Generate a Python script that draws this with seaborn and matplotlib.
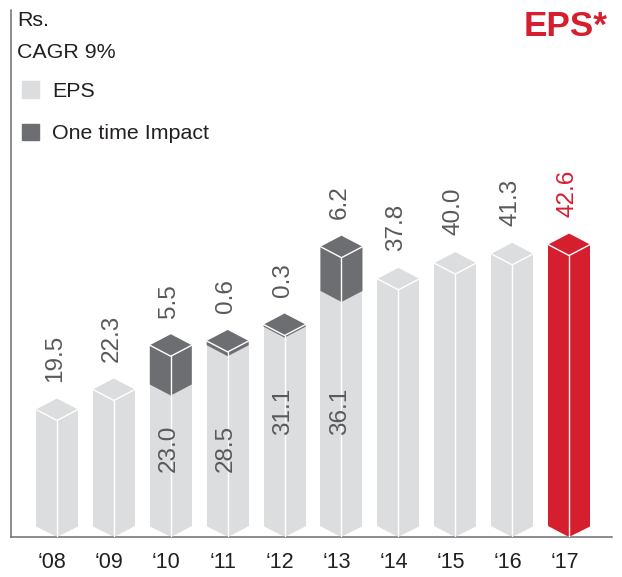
import matplotlib
matplotlib.use("Agg")
import matplotlib.pyplot as plt
from matplotlib.patches import Patch
from matplotlib.transforms import ScaledTranslation
import pandas as pd
import seaborn as sns

years = ["‘08", "‘09", "‘10", "‘11", "‘12", "‘13", "‘14", "‘15", "‘16", "‘17"]
eps = [19.5, 22.3, 23.0, 28.5, 31.1, 36.1, 37.8, 40.0, 41.3, 42.6]
one_time = [0, 0, 5.5, 0.6, 0.3, 6.2, 0, 0, 0, 0]

LIGHT = "#dcddde"
DARK = "#6d6e71"
RED = "#d51f2f"
TEXT = "#58595b"

df = pd.DataFrame({"year": years, "eps": eps, "one_time": one_time})
df["total"] = df["eps"] + df["one_time"]

sns.set_theme(style="white")
plt.rcParams["font.family"] = ["Liberation Sans", "DejaVu Sans"]

W, H = 622, 577
fig = plt.figure(figsize=(W / 100, H / 100), dpi=100)
ax = fig.add_axes([11 / W, 1 - 537 / H, 601 / W, 527 / H])

colors = [LIGHT] * 9 + [RED]
sns.barplot(data=df, x="year", y="total", hue="year", palette=colors, legend=False,
            saturation=1, width=0.738, ax=ax, linewidth=0, zorder=1)

px_per_unit = 7.14
floor = 1.64
ax.set_ylim(floor, floor + 527 / px_per_unit)
ax.set_xlim(-0.808, 9.754)
d = 11 / px_per_unit
hw = 0.738 / 2

for i, row in df.iterrows():
    top = row["total"]
    col = RED if i == 9 else LIGHT
    # one time part, V shaped lower edge
    if row["one_time"] > 0:
        col = DARK
        b = row["eps"]
        ax.fill([i - hw, i, i + hw, i + hw, i - hw], [b, b - d, b, top, top],
                color=DARK, lw=0, zorder=2)
    # top of the cube
    ax.fill([i - hw, i, i + hw, i], [top, top + d, top, top - d], color=col, lw=0, zorder=3)
    # white edges
    ax.plot([i - hw, i, i + hw], [top, top - d, top], color="white", lw=1, zorder=4,
            solid_joinstyle="miter")
    ax.plot([i, i], [floor, top - d], color="white", lw=1, zorder=4)
    # chevron cut at the foot
    ax.fill([i - hw - 0.01, i - hw - 0.01, i], [floor + d, floor, floor], color="white", lw=0, zorder=2)
    ax.fill([i + hw + 0.01, i + hw + 0.01, i], [floor + d, floor, floor], color="white", lw=0, zorder=2)

# labels over the bars
for i, row in df.iterrows():
    label = row["one_time"] if row["one_time"] > 0 else row["eps"]
    ax.annotate(f"{label:.1f}", (i, row["total"] + d), xytext=(-1.5, 12), textcoords="offset points",
                rotation=90, ha="center", va="bottom", fontsize=17.5,
                color=RED if i == 9 else TEXT, zorder=5)

# eps labels inside the split bars
for i, py in zip([2, 3, 4, 5], [448, 448, 411, 411]):
    ax.text(i - 0.03, (537 - py) / 527, f"{eps[i]:.1f}", rotation=90, ha="center", va="center",
            fontsize=17.5, color=TEXT, transform=ax.get_xaxis_transform(), zorder=5)

for side in ["top", "right"]:
    ax.spines[side].set_visible(False)
for side in ["left", "bottom"]:
    ax.spines[side].set_color(DARK)
    ax.spines[side].set_linewidth(1.1)

ax.set_xlabel("")
ax.set_ylabel("")
ax.set_yticks([])
ax.tick_params(axis="x", length=0, pad=11, labelsize=15.5, labelcolor="#231f20")
shift = ScaledTranslation(-4.5 / 100, 0, fig.dpi_scale_trans)
for lab in ax.get_xticklabels():
    lab.set_transform(lab.get_transform() + shift)

fig.text(17 / W, 1 - 20 / H, "Rs.", fontsize=15.4, color="#231f20", va="center")
fig.text(17 / W, 1 - 52 / H, "CAGR 9%", fontsize=15.4, color="#231f20", va="center")
fig.text(608 / W, 1 - 27 / H, "EPS*", fontsize=25.3, fontweight="bold", color=RED, ha="right", va="center")

handles = [Patch(color=LIGHT, label="EPS"), Patch(color=DARK, label="One time Impact")]
ax.legend(handles=handles, loc="upper left", bbox_to_anchor=(5 / 601, 1 - 65 / 527), frameon=False,
          fontsize=15.4, handlelength=0.78, handleheight=0.78, handletextpad=0.6, labelspacing=1.08,
          labelcolor="#231f20", borderpad=0.3, borderaxespad=0)

fig.savefig("out.png", dpi=100)
